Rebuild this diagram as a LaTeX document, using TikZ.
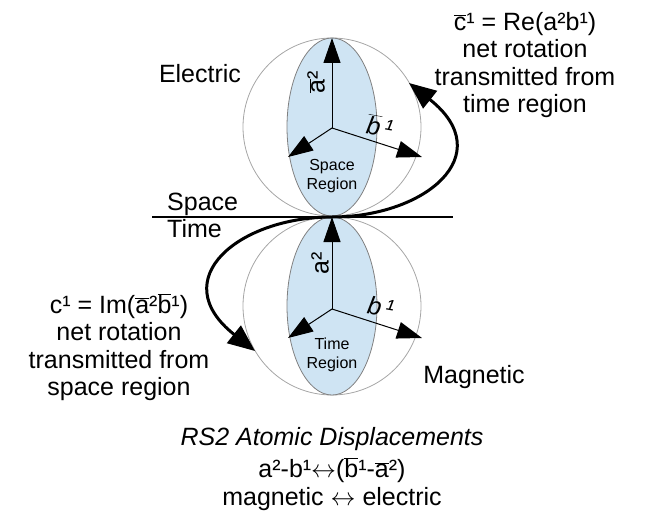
\documentclass[tikz,border=0pt]{standalone}
\usepackage{fontspec}
\setmainfont{Liberation Sans}
\usetikzlibrary{arrows.meta,shapes.geometric}
\definecolor{regionblue}{RGB}{207,228,243}
\newcommand{\bartxt}[1]{$\overline{\mbox{#1}}$}

\begin{document}
\begin{tikzpicture}[x=1pt, y=-1pt,
    ball/.style={circle, draw=gray!70, line width=0.8pt, minimum size=178pt, inner sep=0pt},
    region/.style={ellipse, draw=gray, fill=regionblue, line width=0.8pt,
        minimum width=90pt, minimum height=178pt, inner sep=0pt},
    axis/.style={line width=1pt, -{Triangle[length=25pt,width=17pt]}},
    transfer/.style={line width=3pt, -{Triangle[length=27pt,width=22pt]}},
    lbl/.style={font=\fontsize{25}{27.5}\selectfont, inner sep=0pt, align=center},
    small/.style={font=\fontsize{16}{19}\selectfont, inner sep=0pt, align=center}]

    \useasboundingbox (0,0) rectangle (648,519);

    % Space region (top ball)
    \node[ball] (spaceball) at (332,127) {};
    \node[region] (spacereg) at (332,127) {};
    \coordinate (so) at (332,128);
    \coordinate (sup) at (332,38);
    \coordinate (sleft) at (288,157);
    \coordinate (sright) at (422,157);
    \draw[axis] (so) -- (sup);
    \draw[axis] (so) -- (sleft);
    \draw[axis] (so) -- (sright);
    \node[lbl, rotate=90] (atop) at (316,82) {\bartxt{a}²};
    \node[lbl, rotate=-10] (btop) at (380,126) {\itshape\bartxt{b}\,¹};
    \node[small] (spacetxt) at (332,176) {Space\\Region};

    % Time region (bottom ball)
    \node[ball] (timeball) at (332,306) {};
    \node[region] (timereg) at (332,306) {};
    \coordinate (to) at (332,309);
    \coordinate (tup) at (332,217);
    \coordinate (tleft) at (288,338);
    \coordinate (tright) at (422,338);
    \draw[axis] (to) -- (tup);
    \draw[axis] (to) -- (tleft);
    \draw[axis] (to) -- (tright);
    \node[lbl, rotate=90] (abot) at (320,263) {a²};
    \node[lbl, rotate=-10] (bbot) at (381,307) {\itshape b\,¹};
    \node[small] (timetxt) at (332,355) {Time\\Region};

    % Space / time boundary
    \coordinate (lineleft) at (152,217);
    \coordinate (lineright) at (453,217);
    \draw[line width=1.2pt] (lineleft) -- (lineright);
    \node[lbl, anchor=base west] (spacelbl) at (167,210) {Space};
    \node[lbl, anchor=base west] (timelbl) at (167,237) {Time};
    \node[lbl, anchor=base] (electric) at (200,82) {Electric};
    \node[lbl, anchor=base] (magnetic) at (474,383) {Magnetic};

    % Transmitted rotations
    \coordinate (touch) at (332,217);
    \coordinate (rtip) at (409,83);
    \coordinate (ltip) at (255,351);
    \draw[transfer] (touch) .. controls (425,217) and (500,155) .. (rtip);
    \draw[transfer] (touch) .. controls (239,217) and (164,279) .. (ltip);
    \node[lbl] (retxt) at (525,65) {\bartxt{c}¹ = Re(a²b¹)\\net rotation\\transmitted from\\time region};
    \node[lbl] (imtxt) at (119,347) {c¹ = Im(\bartxt{a}²\bartxt{b}¹)\\net rotation\\transmitted from\\space region};

    % Caption
    \node[lbl] (caption) at (332,469) {\textit{RS2 Atomic Displacements}\\[5pt]
        a²-b¹$\leftrightarrow$(\bartxt{b}¹-\bartxt{a}²)\\magnetic $\leftrightarrow$ electric};

\end{tikzpicture}
\end{document}
